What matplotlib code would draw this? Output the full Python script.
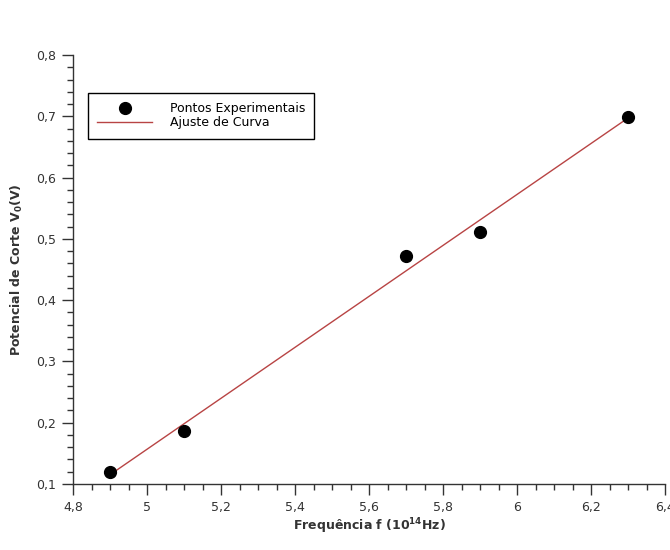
import numpy as np
import matplotlib
matplotlib.use('Agg')
import matplotlib.pyplot as plt
from matplotlib.ticker import MultipleLocator, FuncFormatter

# Data
freq = [4.9, 5.1, 5.7, 5.9, 6.3]          # 10^14 Hz
v_stop = [0.120, 0.187, 0.472, 0.512, 0.699]  # V

x_ticks = [4.8, 5.0, 5.2, 5.4, 5.6, 5.8, 6.0, 6.2, 6.4]
y_ticks = [0.1, 0.2, 0.3, 0.4, 0.5, 0.6, 0.7, 0.8]

# Linear fit of the experimental points
slope, intercept = np.polyfit(freq, v_stop, 1)
fit_x = np.array([freq[0], freq[-1]])
fit_y = slope * fit_x + intercept

plt.rcParams['font.family'] = ['DejaVu Sans']

fig = plt.figure(figsize=(6.7, 5.5), dpi=100)
ax = fig.add_axes([0.109, 0.12, 0.884, 0.78])

ax.plot(fit_x, fit_y, color='#b84444', lw=1.0, label='Ajuste de Curva', zorder=2)
ax.plot(freq, v_stop, 'o', color='black', ms=8.5, label='Pontos Experimentais', zorder=3)

ax.set_xlim(4.8, 6.4)
ax.set_ylim(0.1, 0.8)
ax.set_xticks(x_ticks)
ax.set_yticks(y_ticks)
ax.xaxis.set_minor_locator(MultipleLocator(0.05))
ax.yaxis.set_minor_locator(MultipleLocator(0.02))

def comma_fmt(v, pos):
    s = f'{v:.1f}'
    if s.endswith('.0'):
        s = s[:-2]
    return s.replace('.', ',')

ax.xaxis.set_major_formatter(FuncFormatter(comma_fmt))
ax.yaxis.set_major_formatter(FuncFormatter(comma_fmt))

for side in ['top', 'right']:
    ax.spines[side].set_visible(False)
for side in ['left', 'bottom']:
    ax.spines[side].set_linewidth(1.0)
    ax.spines[side].set_color('#333333')

ax.tick_params(which='major', direction='out', length=8, width=1, color='#333333',
               labelsize=9, labelcolor='#333333', pad=4)
ax.tick_params(which='minor', direction='out', length=4, width=1, color='#333333')

ax.set_xlabel('Frequência f (10$^{\\mathbf{14}}$Hz)', fontsize=9, fontweight='bold',
              color='#333333', labelpad=2)
ax.set_ylabel('Potencial de Corte V$_{\\mathbf{0}}$(V)', fontsize=9, fontweight='bold',
              color='#333333', labelpad=8)

handles, labels = ax.get_legend_handles_labels()
leg = ax.legend(handles[::-1], labels[::-1], loc='upper left',
                bbox_to_anchor=(0.025, 0.912), fontsize=9, fancybox=False,
                edgecolor='black', framealpha=1, handlelength=4.4,
                borderpad=0.75, labelspacing=0.1, handletextpad=1.4,
                borderaxespad=0)
leg.get_frame().set_linewidth(1.0)

plt.savefig('out.png', dpi=100)
